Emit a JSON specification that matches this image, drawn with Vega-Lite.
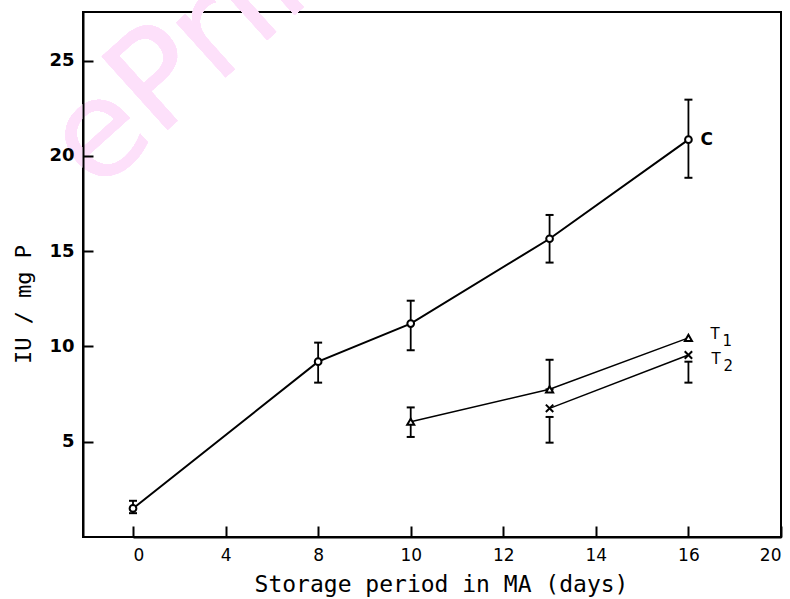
{
  "$schema": "https://vega.github.io/schema/vega-lite/v6.json",
  "width": 698,
  "height": 525,
  "autosize": {"type": "none"},
  "padding": {"left": 83, "top": 12, "right": 9, "bottom": 62},
  "background": "white",
  "config": {
    "view": {"stroke": "black", "strokeWidth": 2},
    "font": "DejaVu Sans",
    "axis": {
      "grid": false,
      "zindex": 2,
      "domainColor": "black",
      "domainWidth": 2,
      "tickColor": "black",
      "tickWidth": 2,
      "labelColor": "black",
      "titleColor": "black",
      "labelFont": "DejaVu Sans",
      "titleFont": "DejaVu Sans Mono",
      "titleFontWeight": "normal"
    }
  },
  "data": {
    "values": [
      {"day": 0, "iu": 1.5, "lo": 1.25, "hi": 1.9, "series": "C"},
      {"day": 8, "iu": 9.2, "lo": 8.1, "hi": 10.2, "series": "C"},
      {"day": 10, "iu": 11.2, "lo": 9.8, "hi": 12.4, "series": "C"},
      {"day": 13, "iu": 15.65, "lo": 14.4, "hi": 16.9, "series": "C"},
      {"day": 16, "iu": 20.85, "lo": 18.85, "hi": 22.95, "series": "C", "label": "C"},
      {"day": 10, "iu": 6.05, "lo": 5.25, "hi": 6.8, "series": "T1"},
      {"day": 13, "iu": 7.75, "lo": 7.75, "hi": 9.3, "series": "T1"},
      {"day": 16, "iu": 10.45, "series": "T1", "label": "T", "sub": "1"},
      {"day": 13, "iu": 6.75, "lo": 4.95, "hi": 6.3, "series": "T2"},
      {"day": 16, "iu": 9.55, "lo": 8.1, "hi": 9.2, "series": "T2", "label": "T", "sub": "2"}
    ]
  },
  "encoding": {
    "x": {
      "field": "day",
      "type": "quantitative",
      "scale": {
        "domain": [0, 4, 8, 10, 12, 14, 16, 20],
        "range": [50, 142.57, 235.14, 327.71, 420.29, 512.86, 605.43, 698],
        "nice": false,
        "zero": false
      },
      "axis": {
        "values": [0, 4, 8, 10, 12, 14, 16, 20],
        "zindex": 2,
        "title": "Storage period in MA (days)",
        "tickSize": -11,
        "labelPadding": 21,
        "labelFontSize": 17,
        "titleFontSize": 23,
        "titleX": 358,
        "titleY": 47,
        "titleAlign": "center",
        "titleBaseline": "middle",
        "titleAnchor": null
      }
    }
  },
  "layer": [
    {
      "mark": {
        "type": "text",
        "text": "ePrints",
        "angle": -42,
        "fontSize": 135,
        "color": "#fde0fa",
        "align": "left",
        "baseline": "alphabetic",
        "font": "DejaVu Sans"
      },
      "encoding": {"x": {"datum": -1.6}, "y": {"datum": 18.0}}
    },
    {
      "transform": [{"filter": "datum.series === 'C'"}],
      "mark": {"type": "line", "color": "black", "strokeWidth": 2},
      "encoding": {
        "y": {
          "field": "iu",
          "type": "quantitative",
          "scale": {"domain": [0, 27.55], "nice": false},
          "axis": {
            "values": [5, 10, 15, 20, 25],
            "zindex": 2,
            "title": "IU / mg P",
            "tickSize": -10,
            "labelPadding": 19,
            "labelFontSize": 18,
            "labelFontWeight": "bold",
            "titleFontSize": 22,
            "titleX": -60,
            "titleY": 292,
            "titleAlign": "center",
            "titleBaseline": "middle",
            "titleAnchor": null
          }
        }
      }
    },
    {
      "transform": [{"filter": "datum.series !== 'C'"}],
      "mark": {"type": "line", "color": "black", "strokeWidth": 1.5},
      "encoding": {
        "y": {"field": "iu", "type": "quantitative"},
        "detail": {"field": "series", "type": "nominal"}
      }
    },
    {
      "transform": [{"filter": "isValid(datum.lo)"}],
      "mark": {"type": "rule", "color": "black", "strokeWidth": 1.8},
      "encoding": {
        "y": {"field": "lo", "type": "quantitative"},
        "y2": {"field": "hi"}
      }
    },
    {
      "transform": [{"filter": "isValid(datum.lo)"}],
      "mark": {"type": "point", "shape": "stroke", "size": 64, "color": "black", "strokeWidth": 2, "opacity": 1},
      "encoding": {"y": {"field": "lo", "type": "quantitative"}}
    },
    {
      "transform": [{"filter": "isValid(datum.hi)"}],
      "mark": {"type": "point", "shape": "stroke", "size": 64, "color": "black", "strokeWidth": 2, "opacity": 1},
      "encoding": {"y": {"field": "hi", "type": "quantitative"}}
    },
    {
      "mark": {"type": "point", "filled": false, "fill": "white", "fillOpacity": 1, "stroke": "black", "strokeWidth": 2, "opacity": 1},
      "encoding": {
        "y": {"field": "iu", "type": "quantitative"},
        "shape": {
          "field": "series",
          "type": "nominal",
          "scale": {"domain": ["C", "T1", "T2"], "range": ["circle", "triangle-up", "M-1,-1L1,1M-1,1L1,-1"]},
          "legend": null
        },
        "size": {
          "field": "series",
          "type": "nominal",
          "scale": {"domain": ["C", "T1", "T2"], "range": [45, 55, 45]},
          "legend": null
        }
      }
    },
    {
      "transform": [{"filter": "datum.series === 'C' && isValid(datum.label)"}],
      "mark": {"type": "text", "align": "left", "baseline": "middle", "dx": 12, "fontSize": 17, "fontWeight": "bold", "color": "black"},
      "encoding": {
        "y": {"field": "iu", "type": "quantitative"},
        "text": {"field": "label"}
      }
    },
    {
      "transform": [{"filter": "datum.series === 'T1' && isValid(datum.label)"}],
      "mark": {"type": "text", "align": "left", "baseline": "middle", "dx": 22, "dy": -4, "fontSize": 15, "color": "black"},
      "encoding": {
        "y": {"field": "iu", "type": "quantitative"},
        "text": {"field": "label"}
      }
    },
    {
      "transform": [{"filter": "datum.series === 'T1' && isValid(datum.sub)"}],
      "mark": {"type": "text", "align": "left", "baseline": "middle", "dx": 34, "dy": 3, "fontSize": 15, "color": "black"},
      "encoding": {
        "y": {"field": "iu", "type": "quantitative"},
        "text": {"field": "sub"}
      }
    },
    {
      "transform": [{"filter": "datum.series === 'T2' && isValid(datum.label)"}],
      "mark": {"type": "text", "align": "left", "baseline": "middle", "dx": 23, "dy": 4, "fontSize": 15, "color": "black"},
      "encoding": {
        "y": {"field": "iu", "type": "quantitative"},
        "text": {"field": "label"}
      }
    },
    {
      "transform": [{"filter": "datum.series === 'T2' && isValid(datum.sub)"}],
      "mark": {"type": "text", "align": "left", "baseline": "middle", "dx": 35, "dy": 11, "fontSize": 15, "color": "black"},
      "encoding": {
        "y": {"field": "iu", "type": "quantitative"},
        "text": {"field": "sub"}
      }
    }
  ]
}
